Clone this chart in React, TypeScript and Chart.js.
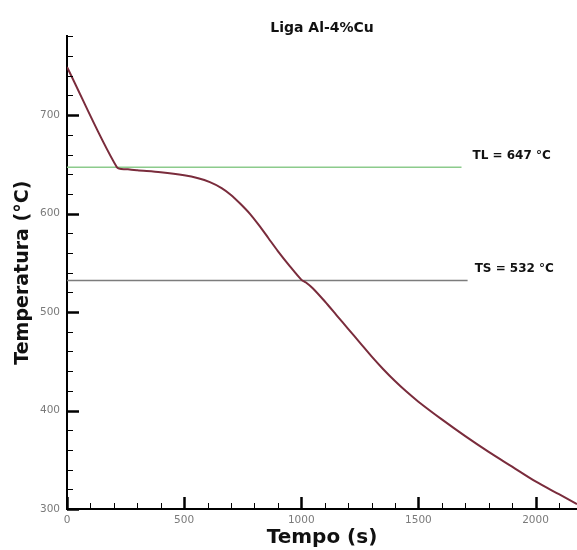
import { useEffect, useRef } from 'react';
import { Chart, registerables } from 'chart.js';

Chart.register(...registerables);

// Cooling curve of the Al-4%Cu alloy (time in s, temperature in °C)
const timeS = [0, 213, 260, 300, 400, 500, 560, 610, 660, 700, 740, 780, 820, 860, 900, 950, 1000, 1020, 1050, 1100, 1150, 1200, 1250, 1300, 1350, 1400, 1450, 1500, 1600, 1700, 1800, 1900, 2000, 2100, 2177];
const tempC = [749, 647, 645, 644, 642, 639, 636, 632, 626, 619, 610, 600, 588, 575, 562, 547, 533, 530, 524, 511, 497, 483, 469, 455, 442, 430, 419, 409, 391, 374, 358, 343, 328, 315, 305];

// Liquidus / solidus reference lines
const tlValue = 647;
const tlTimes = [0, 1684];
const tsValue = 532;
const tsTimes = [0, 1710];
const tlLabel = 'TL = 647 °C';
const tsLabel = 'TS = 532 °C';
const tlLabelAt = [1731, 659];
const tsLabelAt = [1740, 544];

// Axes
const xMin = 0;
const xMax = 2177;
const yMin = 300;
const yMax = 780;
const xTickValues = [0, 100, 200, 300, 400, 500, 600, 700, 800, 900, 1000, 1100, 1200, 1300, 1400, 1500, 1600, 1700, 1800, 1900, 2000, 2100];
const xMajorTicks = [0, 500, 1000, 1500, 2000];
const yTickValues = [300, 320, 340, 360, 380, 400, 420, 440, 460, 480, 500, 520, 540, 560, 580, 600, 620, 640, 660, 680, 700, 720, 740, 760, 780];
const yMajorTicks = [300, 400, 500, 600, 700];

const chartTitle = 'Liga Al-4%Cu';
const xTitle = 'Tempo (s)';
const yTitle = 'Temperatura (°C)';

const FONT = '"DejaVu Sans", "Liberation Sans", Arial, sans-serif';

const inwardTicks = {
  id: 'inwardTicks',
  afterDraw(chart: any) {
    const { ctx, chartArea, scales } = chart;
    const x = scales.x;
    const y = scales.y;
    ctx.save();
    ctx.strokeStyle = '#000';
    yTickValues.forEach((v) => {
      const major = yMajorTicks.includes(v);
      const py = Math.round(y.getPixelForValue(v)) + 0.5;
      ctx.lineWidth = major ? 2.5 : 1;
      ctx.beginPath();
      ctx.moveTo(chartArea.left, py);
      ctx.lineTo(chartArea.left + (major ? 12 : 6), py);
      ctx.stroke();
    });
    xTickValues.forEach((v) => {
      const major = xMajorTicks.includes(v);
      const px = Math.round(x.getPixelForValue(v)) + 0.5;
      ctx.lineWidth = major ? 2.5 : 1;
      ctx.beginPath();
      ctx.moveTo(px, chartArea.bottom);
      ctx.lineTo(px, chartArea.bottom - (major ? 12 : 6));
      ctx.stroke();
    });
    ctx.restore();
  },
};

const lineLabels = {
  id: 'lineLabels',
  afterDatasetsDraw(chart: any) {
    const { ctx, scales } = chart;
    const x = scales.x;
    const y = scales.y;
    ctx.save();
    ctx.font = `bold 12px ${FONT}`;
    ctx.fillStyle = '#111';
    ctx.textAlign = 'left';
    ctx.textBaseline = 'middle';
    ctx.fillText(tlLabel, x.getPixelForValue(tlLabelAt[0]), y.getPixelForValue(tlLabelAt[1]));
    ctx.fillText(tsLabel, x.getPixelForValue(tsLabelAt[0]), y.getPixelForValue(tsLabelAt[1]));
    ctx.restore();
  },
};

export default function App() {
  const canvasRef = useRef<HTMLCanvasElement | null>(null);

  useEffect(() => {
    if (!canvasRef.current) return;
    const curve = timeS.map((t, i) => ({ x: t, y: tempC[i] }));
    const tl = tlTimes.map((t) => ({ x: t, y: tlValue }));
    const ts = tsTimes.map((t) => ({ x: t, y: tsValue }));

    const chart = new Chart(canvasRef.current, {
      type: 'line',
      data: {
        datasets: [
          {
            data: curve,
            borderColor: '#7a2c3c',
            borderWidth: 2,
            pointRadius: 0,
            tension: 0.3,
            borderJoinStyle: 'round',
          },
          {
            data: tl,
            borderColor: '#8ccb8c',
            borderWidth: 1.5,
            pointRadius: 0,
          },
          {
            data: ts,
            borderColor: '#7c7c7c',
            borderWidth: 1.5,
            pointRadius: 0,
          },
        ],
      },
      options: {
        animation: false,
        responsive: false,
        devicePixelRatio: 1,
        layout: { padding: 0 },
        plugins: {
          legend: { display: false },
          tooltip: { enabled: false },
          title: {
            display: true,
            text: chartTitle,
            fullSize: false,
            color: '#111',
            font: { family: FONT, size: 14, weight: 'bold', lineHeight: 1.1 },
            padding: { top: 21, bottom: 0 },
          },
        },
        scales: {
          x: {
            type: 'linear',
            min: xMin,
            max: xMax,
            afterBuildTicks: (scale: any) => {
              scale.ticks = xTickValues.map((v) => ({ value: v }));
            },
            afterFit: (scale: any) => {
              scale.height = 41;
            },
            grid: { display: false, drawTicks: false },
            border: { display: true, color: '#000', width: 2 },
            ticks: {
              autoSkip: false,
              maxRotation: 0,
              padding: 5,
              color: '#7a7a7a',
              font: { family: FONT, size: 10.5 },
              callback: (v: any) => (xMajorTicks.includes(Number(v)) ? String(v) : ''),
            },
            title: {
              display: true,
              text: xTitle,
              color: '#111',
              font: { family: FONT, size: 20, weight: 'bold' },
              padding: { top: 0, bottom: 0 },
            },
          },
          y: {
            type: 'linear',
            min: yMin,
            max: yMax,
            afterBuildTicks: (scale: any) => {
              scale.ticks = yTickValues.map((v) => ({ value: v }));
            },
            afterFit: (scale: any) => {
              scale.width = 67;
            },
            grid: { display: false, drawTicks: false },
            border: { display: true, color: '#000', width: 2 },
            ticks: {
              autoSkip: false,
              padding: 7,
              color: '#7a7a7a',
              font: { family: FONT, size: 10.5 },
              callback: (v: any) => (yMajorTicks.includes(Number(v)) ? String(v) : ''),
            },
            title: {
              display: true,
              text: yTitle,
              color: '#111',
              font: { family: FONT, size: 19, weight: 'bold' },
              padding: { top: 12, bottom: 0 },
            },
          },
        },
      },
      plugins: [inwardTicks, lineLabels],
    } as any);

    return () => chart.destroy();
  }, []);

  return (
    <div style={{ position: 'fixed', left: 0, top: 0, width: 577, height: 550, background: '#fff' }}>
      <canvas ref={canvasRef} width={577} height={550} style={{ display: 'block' }} />
    </div>
  );
}
